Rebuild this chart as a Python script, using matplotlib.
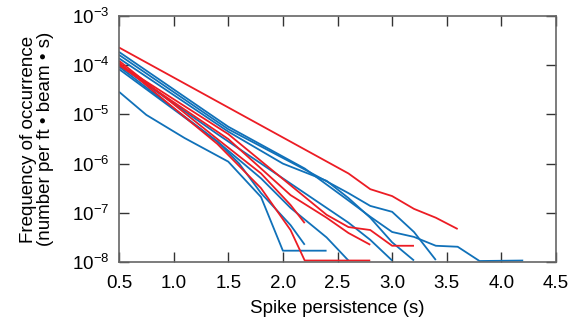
import matplotlib
matplotlib.use("Agg")
import matplotlib.pyplot as plt
import numpy as np
from matplotlib.ticker import LogLocator, NullLocator, FixedLocator

# Data: (x, log10 frequency) for each curve
red_series = [
    ([0.5, 2.6, 2.8, 3.0, 3.2, 3.4, 3.6], [-3.64, -6.2, -6.52, -6.66, -6.92, -7.1, -7.33]),
    ([0.5, 1.4, 1.8, 2.07, 2.2], [-3.91, -5.5, -6.2, -6.84, -7.21]),
    ([0.5, 1.4, 1.8, 2.07, 2.2, 2.8], [-3.95, -5.6, -6.5, -7.35, -7.97, -7.97]),
    ([0.5, 1.5, 2.07, 2.4, 2.6, 2.8], [-4.0, -5.5, -6.64, -7.1, -7.41, -7.65]),
    ([0.5, 1.5, 2.07, 2.4, 2.6, 2.8, 3.0, 3.2], [-3.98, -5.4, -6.44, -7.04, -7.29, -7.35, -7.67, -7.67]),
]
blue_series = [
    ([0.5, 1.5, 2.2, 2.6, 2.8, 3.0, 3.2, 3.4, 3.6, 3.8, 4.2], [-3.73, -5.25, -6.1, -6.75, -7.08, -7.39, -7.49, -7.67, -7.69, -7.98, -7.97]),
    ([0.5, 1.5, 2.2, 2.6, 2.8, 3.0, 3.2, 3.4], [-3.79, -5.3, -6.12, -6.6, -6.86, -6.98, -7.39, -7.96]),
    ([0.5, 1.5, 2.0, 2.4, 2.6, 2.8, 3.0, 3.2], [-3.86, -5.35, -6.0, -6.35, -6.7, -7.1, -7.6, -7.97]),
    ([0.5, 1.4, 2.0, 2.4, 2.6, 2.8, 3.0], [-4.0, -5.4, -6.3, -6.9, -7.2, -7.55, -7.97]),
    ([0.5, 1.4, 1.8, 2.07, 2.4, 2.6], [-4.03, -5.55, -6.3, -6.9, -7.5, -7.97]),
    ([0.5, 1.4, 1.6, 1.8, 2.07, 2.2], [-4.08, -5.55, -6.0, -6.6, -7.25, -7.65]),
    ([0.5, 0.75, 1.1, 1.5, 1.8, 2.0, 2.4], [-4.54, -5.01, -5.48, -5.96, -6.68, -7.77, -7.77]),
]
xticks = [0.5, 1.0, 1.5, 2.0, 2.5, 3.0, 3.5, 4.0, 4.5]
xlabel = "Spike persistence (s)"
ylabel = "Frequency of occurrence\n(number per ft \u2022 beam \u2022 s)"

RED = "#ec1c24"
BLUE = "#1071b9"

plt.rcParams['font.family'] = ['Liberation Sans', 'DejaVu Sans']
plt.rcParams['mathtext.fontset'] = 'custom'
plt.rcParams['mathtext.rm'] = 'Liberation Sans'
plt.rcParams['mathtext.it'] = 'Liberation Sans'
plt.rcParams['mathtext.default'] = 'regular'

fig = plt.figure(figsize=(5.76, 3.2), dpi=100)
ax = fig.add_axes([119/576, 1-262/320, (556-119)/576, (262-16)/320])

for xs, ly in blue_series:
    ax.plot(xs, 10**np.array(ly), color=BLUE, lw=1.3, solid_capstyle='butt')
for xs, ly in red_series:
    ax.plot(xs, 10**np.array(ly), color=RED, lw=1.3, solid_capstyle='butt')

ax.set_yscale('log')
ax.set_xlim(0.5, 4.5)
ax.set_ylim(1e-8, 1e-3)
ax.xaxis.set_major_locator(FixedLocator(xticks))
ax.set_xticklabels([f"{t:.1f}" for t in xticks])
ax.yaxis.set_major_locator(LogLocator(base=10, numticks=10))
ax.yaxis.set_minor_locator(NullLocator())
ax.tick_params(direction='in', length=7, width=1, top=True, right=True,
               color='#333333')
ax.tick_params(axis='x', labelsize=13.5, pad=9)
ax.tick_params(axis='y', labelsize=13.5, pad=7)
for s in ax.spines.values():
    s.set_color('#666666')
    s.set_linewidth(1.2)
ax.set_xlabel(xlabel, fontsize=13.5, labelpad=6)
ax.set_ylabel(ylabel, fontsize=13.5, labelpad=13, linespacing=0.95)

fig.savefig("out.png", dpi=100)
